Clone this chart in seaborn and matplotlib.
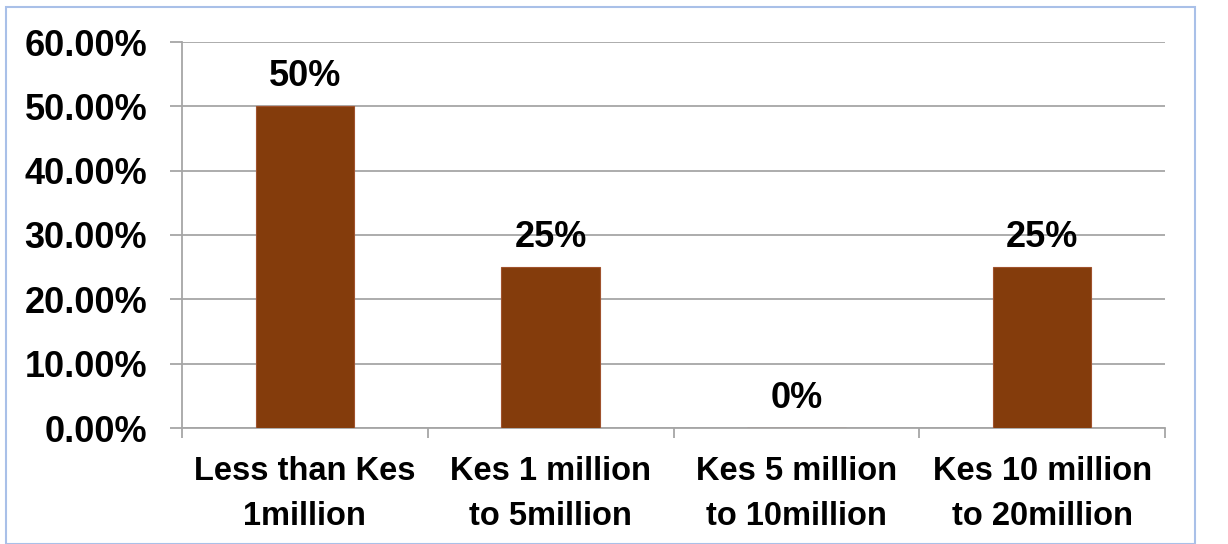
import matplotlib
matplotlib.use("Agg")
import matplotlib.pyplot as plt
import matplotlib.patches as mpatches
from matplotlib.ticker import FixedLocator, FuncFormatter
import seaborn as sns
import pandas as pd

categories = ["Less than Kes\n1million", "Kes 1 million\nto 5million",
              "Kes 5 million\nto 10million", "Kes 10 million\nto 20million"]
shares = [0.50, 0.25, 0.00, 0.25]
value_labels = ["50%", "25%", "0%", "25%"]
y_ticks = [0.0, 0.1, 0.2, 0.3, 0.4, 0.5, 0.6]

sns.set_theme(style="white")
plt.rcParams["font.family"] = ["Liberation Sans", "DejaVu Sans"]

df = pd.DataFrame({"category": categories, "share": shares})

fig = plt.figure(figsize=(12.28, 5.44), dpi=100)
ax = fig.add_axes([182 / 1228, 1 - 428 / 544, (1165 - 182) / 1228, (428 - 42) / 544])

sns.barplot(data=df, x="category", y="share", color="#843C0C", saturation=1,
            width=0.4, edgecolor="#A0522D", linewidth=0.8, ax=ax, zorder=3)

grid_color = "#A6A6A6"
ax.set_ylim(0, 0.6)
ax.set_xlim(-0.5, len(categories) - 0.5)
ax.yaxis.set_major_locator(FixedLocator(y_ticks))
ax.yaxis.set_major_formatter(FuncFormatter(lambda v, _: f"{v * 100:.2f}%"))
ax.grid(axis="y", color=grid_color, linewidth=1.3, zorder=0)
ax.grid(axis="x", visible=False)

for side in ["top", "right"]:
    ax.spines[side].set_visible(False)
for side in ["left", "bottom"]:
    ax.spines[side].set_color(grid_color)
    ax.spines[side].set_linewidth(1.3)

ax.tick_params(axis="y", which="major", length=9, width=1.3, color=grid_color,
               pad=16, labelsize=26, labelcolor="black", left=True)
ax.tick_params(axis="x", which="major", length=0, pad=20, labelsize=23.5,
               labelcolor="black")
ax.set_xticks(range(len(categories)))
ax.set_xticklabels(categories, linespacing=1.6)
ax.set_xticks([i - 0.5 for i in range(len(categories) + 1)], minor=True)
ax.tick_params(axis="x", which="minor", length=7, width=1.3, color=grid_color,
               bottom=True)
for lab in ax.get_xticklabels() + ax.get_yticklabels():
    lab.set_fontweight("bold")

ax.set_xlabel("")
ax.set_ylabel("")

for i, (v, lab) in enumerate(zip(shares, value_labels)):
    ax.annotate(lab, xy=(i, v), xytext=(0, 9), textcoords="offset points",
                ha="center", va="bottom", fontsize=26, fontweight="bold",
                color="black", zorder=4)

fig.patches.append(mpatches.Rectangle((6 / 1228, 0), (1195 - 6) / 1228, 1 - 7 / 544,
                                      transform=fig.transFigure, fill=False,
                                      edgecolor="#A9C0E8", linewidth=1.5))

fig.savefig("out.png", dpi=100, facecolor="white")
